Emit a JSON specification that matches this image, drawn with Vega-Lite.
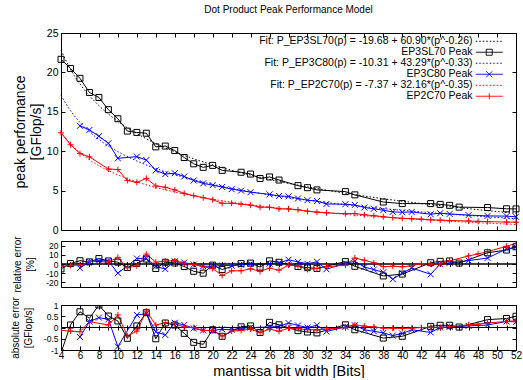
{
  "$schema": "https://vega.github.io/schema/vega-lite/v6.json",
  "padding": {"left": 9, "top": 4, "right": 0, "bottom": 0},
  "background": "white",
  "config": {
    "font": "Liberation Sans",
    "view": {"stroke": "black", "strokeWidth": 1},
    "axis": {"grid": false, "domain": false, "tickColor": "black", "tickWidth": 1, "labelColor": "black", "titleColor": "black", "labelFont": "Liberation Sans", "titleFont": "Liberation Sans", "titleFontWeight": "normal", "labelFontSize": 10, "labelFlush": false, "labelOverlap": false}
  },
  "datasets": {
    "fits": [
      {"x":4,"s":"Fit EP3SL70","f":22.79},{"x":5,"s":"Fit EP3SL70","f":20.40},{"x":6,"s":"Fit EP3SL70","f":18.54},{"x":7,"s":"Fit EP3SL70","f":17.04},{"x":8,"s":"Fit EP3SL70","f":15.79},{"x":9,"s":"Fit EP3SL70","f":14.71},{"x":10,"s":"Fit EP3SL70","f":13.79},{"x":12,"s":"Fit EP3SL70","f":12.24},{"x":14,"s":"Fit EP3SL70","f":10.98},{"x":16,"s":"Fit EP3SL70","f":9.94},{"x":18,"s":"Fit EP3SL70","f":9.04},{"x":20,"s":"Fit EP3SL70","f":8.27},{"x":23,"s":"Fit EP3SL70","f":7.27},{"x":26,"s":"Fit EP3SL70","f":6.42},{"x":30,"s":"Fit EP3SL70","f":5.47},{"x":34,"s":"Fit EP3SL70","f":4.67},{"x":38,"s":"Fit EP3SL70","f":3.97},{"x":42,"s":"Fit EP3SL70","f":3.36},{"x":46,"s":"Fit EP3SL70","f":2.83},{"x":50,"s":"Fit EP3SL70","f":2.34},{"x":52,"s":"Fit EP3SL70","f":2.12},
      {"x":4,"s":"Fit EP3C80","f":17.09},{"x":5,"s":"Fit EP3C80","f":15.14},{"x":6,"s":"Fit EP3C80","f":13.66},{"x":7,"s":"Fit EP3C80","f":12.47},{"x":8,"s":"Fit EP3C80","f":11.49},{"x":9,"s":"Fit EP3C80","f":10.66},{"x":10,"s":"Fit EP3C80","f":9.94},{"x":12,"s":"Fit EP3C80","f":8.76},{"x":14,"s":"Fit EP3C80","f":7.81},{"x":16,"s":"Fit EP3C80","f":7.03},{"x":18,"s":"Fit EP3C80","f":6.37},{"x":20,"s":"Fit EP3C80","f":5.80},{"x":23,"s":"Fit EP3C80","f":5.07},{"x":26,"s":"Fit EP3C80","f":4.46},{"x":30,"s":"Fit EP3C80","f":3.78},{"x":34,"s":"Fit EP3C80","f":3.21},{"x":38,"s":"Fit EP3C80","f":2.72},{"x":42,"s":"Fit EP3C80","f":2.30},{"x":46,"s":"Fit EP3C80","f":1.93},{"x":50,"s":"Fit EP3C80","f":1.59},{"x":52,"s":"Fit EP3C80","f":1.44},
      {"x":4,"s":"Fit EP2C70","f":12.43},{"x":5,"s":"Fit EP2C70","f":10.94},{"x":6,"s":"Fit EP2C70","f":9.81},{"x":7,"s":"Fit EP2C70","f":8.91},{"x":8,"s":"Fit EP2C70","f":8.16},{"x":9,"s":"Fit EP2C70","f":7.54},{"x":10,"s":"Fit EP2C70","f":7.00},{"x":12,"s":"Fit EP2C70","f":6.11},{"x":14,"s":"Fit EP2C70","f":5.40},{"x":16,"s":"Fit EP2C70","f":4.82},{"x":18,"s":"Fit EP2C70","f":4.32},{"x":20,"s":"Fit EP2C70","f":3.90},{"x":23,"s":"Fit EP2C70","f":3.36},{"x":26,"s":"Fit EP2C70","f":2.91},{"x":30,"s":"Fit EP2C70","f":2.41},{"x":34,"s":"Fit EP2C70","f":1.99},{"x":38,"s":"Fit EP2C70","f":1.63},{"x":42,"s":"Fit EP2C70","f":1.32},{"x":46,"s":"Fit EP2C70","f":1.05},{"x":50,"s":"Fit EP2C70","f":0.81},{"x":52,"s":"Fit EP2C70","f":0.70}
    ],
    "peaks": [
      {"x":4,"s":"EP3SL70 Peak","p":21.66,"r":-5.3,"a":-1.13},{"x":5,"s":"EP3SL70 Peak","p":20.5,"r":0.5,"a":0.11},{"x":6,"s":"EP3SL70 Peak","p":19.25,"r":3.6,"a":0.7},{"x":7,"s":"EP3SL70 Peak","p":17.45,"r":2.3,"a":0.41},{"x":8,"s":"EP3SL70 Peak","p":16.82,"r":5.9,"a":1.0},{"x":9,"s":"EP3SL70 Peak","p":15.27,"r":3.3,"a":0.51},{"x":10,"s":"EP3SL70 Peak","p":14.12,"r":2.0,"a":0.29},{"x":11,"s":"EP3SL70 Peak","p":12.55,"r":-3.8,"a":-0.48},{"x":12,"s":"EP3SL70 Peak","p":12.38,"r":0.6,"a":0.07},{"x":13,"s":"EP3SL70 Peak","p":12.28,"r":5.4,"a":0.66},{"x":14,"s":"EP3SL70 Peak","p":10.55,"r":-4.9,"a":-0.5},{"x":15,"s":"EP3SL70 Peak","p":10.65,"r":1.9,"a":0.2},{"x":16,"s":"EP3SL70 Peak","p":10.08,"r":1.1,"a":0.11},{"x":17,"s":"EP3SL70 Peak","p":9.2,"r":-2.8,"a":-0.26},{"x":18,"s":"EP3SL70 Peak","p":8.4,"r":-7.9,"a":-0.66},{"x":19,"s":"EP3SL70 Peak","p":7.95,"r":-10,"a":-0.75},{"x":20,"s":"EP3SL70 Peak","p":8.2,"r":-1.2,"a":-0.1},{"x":21,"s":"EP3SL70 Peak","p":7.57,"r":-6,"a":-0.39},{"x":23,"s":"EP3SL70 Peak","p":7.33,"r":0.4,"a":0.03},{"x":24,"s":"EP3SL70 Peak","p":7.1,"r":1.0,"a":0.07},{"x":25,"s":"EP3SL70 Peak","p":6.54,"r":-3.4,"a":-0.22},{"x":26,"s":"EP3SL70 Peak","p":6.73,"r":3.4,"a":0.23},{"x":27,"s":"EP3SL70 Peak","p":6.34,"r":1.9,"a":0.12},{"x":29,"s":"EP3SL70 Peak","p":5.63,"r":-2.7,"a":-0.14},{"x":30,"s":"EP3SL70 Peak","p":5.37,"r":-4,"a":-0.2},{"x":31,"s":"EP3SL70 Peak","p":5.09,"r":-4.8,"a":-0.24},{"x":34,"s":"EP3SL70 Peak","p":4.87,"r":2.6,"a":0.12},{"x":35,"s":"EP3SL70 Peak","p":4.46,"r":-2.5,"a":-0.1},{"x":38,"s":"EP3SL70 Peak","p":3.55,"r":-13,"a":-0.47},{"x":40,"s":"EP3SL70 Peak","p":3.35,"r":-11,"a":-0.39},{"x":43,"s":"EP3SL70 Peak","p":3.35,"r":1.4,"a":0.05},{"x":44,"s":"EP3SL70 Peak","p":3.25,"r":2.9,"a":0.1},{"x":45,"s":"EP3SL70 Peak","p":3.13,"r":3.3,"a":0.1},{"x":46,"s":"EP3SL70 Peak","p":2.9,"r":1.0,"a":0.02},{"x":49,"s":"EP3SL70 Peak","p":2.85,"r":12.2,"a":0.35},{"x":51,"s":"EP3SL70 Peak","p":2.69,"r":15.2,"a":0.4},{"x":52,"s":"EP3SL70 Peak","p":2.68,"r":18.7,"a":0.5},
      {"x":6,"s":"EP3C80 Peak","p":13.22,"r":-4.5,"a":-0.42},{"x":7,"s":"EP3C80 Peak","p":12.7,"r":2.4,"a":0.26},{"x":8,"s":"EP3C80 Peak","p":11.9,"r":3.7,"a":0.44},{"x":9,"s":"EP3C80 Peak","p":11.01,"r":3.3,"a":0.36},{"x":10,"s":"EP3C80 Peak","p":9.1,"r":-10,"a":-0.85},{"x":12,"s":"EP3C80 Peak","p":9.31,"r":6.0,"a":0.56},{"x":13,"s":"EP3C80 Peak","p":8.87,"r":6.2,"a":0.61},{"x":14,"s":"EP3C80 Peak","p":7.57,"r":-2.7,"a":-0.19},{"x":15,"s":"EP3C80 Peak","p":7.09,"r":-5.5,"a":-0.33},{"x":16,"s":"EP3C80 Peak","p":7.21,"r":2.9,"a":0.21},{"x":17,"s":"EP3C80 Peak","p":6.79,"r":1.6,"a":0.11},{"x":18,"s":"EP3C80 Peak","p":6.28,"r":-0.6,"a":-0.04},{"x":19,"s":"EP3C80 Peak","p":5.91,"r":-2.4,"a":-0.13},{"x":20,"s":"EP3C80 Peak","p":5.69,"r":-2.5,"a":-0.13},{"x":21,"s":"EP3C80 Peak","p":5.46,"r":-1.5,"a":-0.08},{"x":22,"s":"EP3C80 Peak","p":5.18,"r":-1.9,"a":-0.1},{"x":23,"s":"EP3C80 Peak","p":5.0,"r":-0.8,"a":-0.04},{"x":24,"s":"EP3C80 Peak","p":4.8,"r":0,"a":0},{"x":26,"s":"EP3C80 Peak","p":4.52,"r":0.4,"a":0.02},{"x":27,"s":"EP3C80 Peak","p":4.32,"r":1.2,"a":0.05},{"x":28,"s":"EP3C80 Peak","p":4.27,"r":4.6,"a":0.2},{"x":29,"s":"EP3C80 Peak","p":4.0,"r":2.3,"a":0.09},{"x":30,"s":"EP3C80 Peak","p":3.78,"r":0.2,"a":0},{"x":31,"s":"EP3C80 Peak","p":3.68,"r":2.5,"a":0.1},{"x":32,"s":"EP3C80 Peak","p":3.3,"r":-5.7,"a":-0.18},{"x":34,"s":"EP3C80 Peak","p":3.27,"r":0.9,"a":0.03},{"x":35,"s":"EP3C80 Peak","p":3.18,"r":2.9,"a":0.1},{"x":36,"s":"EP3C80 Peak","p":2.86,"r":-3.3,"a":-0.1},{"x":37,"s":"EP3C80 Peak","p":2.69,"r":-6.1,"a":-0.17},{"x":38,"s":"EP3C80 Peak","p":2.51,"r":-9,"a":-0.24},{"x":39,"s":"EP3C80 Peak","p":2.3,"r":-16.5,"a":-0.36},{"x":40,"s":"EP3C80 Peak","p":2.25,"r":-10,"a":-0.27},{"x":41,"s":"EP3C80 Peak","p":2.29,"r":-4.4,"a":-0.1},{"x":43,"s":"EP3C80 Peak","p":2.0,"r":-11.2,"a":-0.22},{"x":44,"s":"EP3C80 Peak","p":2.13,"r":0,"a":0},{"x":45,"s":"EP3C80 Peak","p":2.04,"r":1.2,"a":0.03},{"x":47,"s":"EP3C80 Peak","p":1.89,"r":3.7,"a":0.07},{"x":49,"s":"EP3C80 Peak","p":1.79,"r":6.5,"a":0.11},{"x":51,"s":"EP3C80 Peak","p":1.76,"r":16.3,"a":0.27},{"x":52,"s":"EP3C80 Peak","p":1.68,"r":18.2,"a":0.25},
      {"x":4,"s":"EP2C70 Peak","p":12.33,"r":-2.5,"a":-0.13},{"x":5,"s":"EP2C70 Peak","p":10.82,"r":-1.6,"a":-0.16},{"x":6,"s":"EP2C70 Peak","p":9.7,"r":-1.2,"a":-0.19},{"x":7,"s":"EP2C70 Peak","p":9.28,"r":2.8,"a":0.26},{"x":9,"s":"EP2C70 Peak","p":7.74,"r":2.2,"a":0.11},{"x":10,"s":"EP2C70 Peak","p":7.67,"r":7.2,"a":0.56},{"x":11,"s":"EP2C70 Peak","p":6.28,"r":-4.2,"a":-0.38},{"x":12,"s":"EP2C70 Peak","p":6.04,"r":-2.0,"a":-0.16},{"x":13,"s":"EP2C70 Peak","p":6.55,"r":10.8,"a":0.73},{"x":14,"s":"EP2C70 Peak","p":5.59,"r":2.0,"a":0.11},{"x":15,"s":"EP2C70 Peak","p":5.42,"r":3.2,"a":0.21},{"x":16,"s":"EP2C70 Peak","p":5.09,"r":3.4,"a":0.17},{"x":17,"s":"EP2C70 Peak","p":4.65,"r":0.4,"a":0.02},{"x":18,"s":"EP2C70 Peak","p":4.36,"r":-0.5,"a":0},{"x":19,"s":"EP2C70 Peak","p":4.1,"r":-3,"a":-0.13},{"x":20,"s":"EP2C70 Peak","p":3.85,"r":-5,"a":-0.13},{"x":21,"s":"EP2C70 Peak","p":3.38,"r":-12.5,"a":-0.38},{"x":22,"s":"EP2C70 Peak","p":3.4,"r":-7.4,"a":-0.16},{"x":23,"s":"EP2C70 Peak","p":3.27,"r":-7.4,"a":-0.13},{"x":24,"s":"EP2C70 Peak","p":3.15,"r":-5.2,"a":-0.07},{"x":25,"s":"EP2C70 Peak","p":2.9,"r":-8.1,"a":-0.23},{"x":26,"s":"EP2C70 Peak","p":2.88,"r":-4.5,"a":-0.07},{"x":27,"s":"EP2C70 Peak","p":2.68,"r":-6.7,"a":-0.17},{"x":28,"s":"EP2C70 Peak","p":2.68,"r":-1.3,"a":-0.03},{"x":29,"s":"EP2C70 Peak","p":2.57,"r":-2,"a":-0.05},{"x":30,"s":"EP2C70 Peak","p":2.38,"r":-5.9,"a":-0.1},{"x":31,"s":"EP2C70 Peak","p":2.26,"r":-4.9,"a":-0.1},{"x":32,"s":"EP2C70 Peak","p":2.18,"r":-3,"a":-0.07},{"x":34,"s":"EP2C70 Peak","p":2.07,"r":-1.3,"a":0},{"x":35,"s":"EP2C70 Peak","p":2.09,"r":6.5,"a":0.12},{"x":36,"s":"EP2C70 Peak","p":1.93,"r":4.1,"a":0.06},{"x":37,"s":"EP2C70 Peak","p":1.82,"r":1.3,"a":0.03},{"x":38,"s":"EP2C70 Peak","p":1.68,"r":-3,"a":-0.03},{"x":39,"s":"EP2C70 Peak","p":1.57,"r":-2.4,"a":-0.03},{"x":40,"s":"EP2C70 Peak","p":1.48,"r":-3,"a":-0.04},{"x":41,"s":"EP2C70 Peak","p":1.43,"r":-2,"a":-0.03},{"x":42,"s":"EP2C70 Peak","p":1.38,"r":0.4,"a":0},{"x":43,"s":"EP2C70 Peak","p":1.3,"r":0,"a":0},{"x":44,"s":"EP2C70 Peak","p":1.25,"r":0,"a":0},{"x":45,"s":"EP2C70 Peak","p":1.2,"r":3.4,"a":0.03},{"x":47,"s":"EP2C70 Peak","p":1.14,"r":8.8,"a":0.12},{"x":48,"s":"EP2C70 Peak","p":1.1,"r":11,"a":0.15},{"x":49,"s":"EP2C70 Peak","p":1.06,"r":13.5,"a":0.2},{"x":51,"s":"EP2C70 Peak","p":1.0,"r":19.3,"a":0.27},{"x":52,"s":"EP2C70 Peak","p":0.99,"r":22.5,"a":0.3}
    ]
  },
  "bounds": "flush",
  "spacing": 11,
  "resolve": {"scale": {"color": "independent", "shape": "independent"}},
  "vconcat": [
    {
      "width": 455,
      "height": 197,
      "title": {"text": "Dot Product Peak Performance Model", "frame": "group", "fontSize": 10, "fontWeight": "normal", "font": "Liberation Sans", "color": "black", "offset": 13},
      "resolve": {"axis": {"x": "independent", "y": "independent"}},
      "layer": [
        {
          "data": {"name": "fits"},
          "mark": {"type": "line", "strokeDash": [1.5, 2], "strokeWidth": 1, "interpolate": "monotone"},
          "encoding": {
            "x": {"field": "x", "type": "quantitative", "scale": {"domain": [4, 52], "nice": false, "zero": false},
                  "axis": {"orient": "bottom", "values": [4,6,8,10,12,14,16,18,20,22,24,26,28,30,32,34,36,38,40,42,44,46,48,50,52], "labels": false, "tickSize": -4, "title": null}},
            "y": {"field": "f", "type": "quantitative", "scale": {"domain": [0, 25], "nice": false},
                  "axis": {"orient": "left", "values": [0,5,10,15,20,25], "tickSize": -4, "labelPadding": 7, "labelFontSize": 10.5, "title": ["peak performance", "[GFlop/s]"], "titleFontSize": 14, "titleLineHeight": 16, "titlePadding": 3}},
            "color": {"field": "s", "type": "nominal",
                      "scale": {"domain": ["Fit EP3SL70", "EP3SL70 Peak", "Fit EP3C80", "EP3C80 Peak", "Fit EP2C70", "EP2C70 Peak"], "range": ["#000000", "#000000", "#0000ff", "#0000ff", "#ff0000", "#ff0000"]},
                      "legend": {
                        "title": null, "orient": "none", "legendX": 423, "legendY": 3,
                        "labelFontSize": 10.5, "labelFont": "Liberation Sans", "labelColor": "black",
                        "labelAlign": "right", "labelOffset": -22, "labelLimit": 400,
                        "rowPadding": 0, "symbolSize": 36, "symbolStrokeWidth": 1, "padding": 0,
                        "labelExpr": "datum.value == 'Fit EP3SL70' ? 'Fit: P_EP3SL70(p) = -19.68 + 60.90*(p^-0.26)' : datum.value == 'Fit EP3C80' ? 'Fit: P_EP3C80(p) = -10.31 + 43.29*(p^-0.33)' : datum.value == 'Fit EP2C70' ? 'Fit: P_EP2C70(p) = -7.37 + 32.16*(p^-0.35)' : datum.label",
                        "encode": {"symbols": {"update": {
                          "shape": {"signal": "datum.value == 'EP3SL70 Peak' ? 'M-4.5,0H4.5M-1,-1H1V1H-1Z' : datum.value == 'EP3C80 Peak' ? 'M-4.5,0H4.5M-1,-1L1,1M-1,1L1,-1' : datum.value == 'EP2C70 Peak' ? 'M-4.5,0H4.5M0,-1V1' : 'M-4.5,0H4.5'"},
                          "strokeDash": {"signal": "indexof(datum.value, 'Fit') == 0 ? [1.5, 2] : [1, 0]"},
                          "stroke": {"signal": "indexof(datum.value, '3SL70') >= 0 ? '#000000' : indexof(datum.value, '3C80') >= 0 ? '#0000ff' : '#ff0000'"},
                          "fill": {"value": "transparent"},
                          "opacity": {"value": 1}
                        }}}
                      }}
          }
        },
        {
          "data": {"name": "peaks"},
          "mark": {"type": "line", "strokeWidth": 1},
          "encoding": {
            "x": {"field": "x", "type": "quantitative", "axis": {"orient": "top", "values": [4,6,8,10,12,14,16,18,20,22,24,26,28,30,32,34,36,38,40,42,44,46,48,50,52], "labels": false, "tickSize": -4, "title": null}},
            "y": {"field": "p", "type": "quantitative", "axis": {"orient": "right", "values": [0,5,10,15,20,25], "labels": false, "tickSize": -4, "title": null}},
            "color": {"field": "s", "type": "nominal"}
          }
        },
        {
          "data": {"name": "peaks"},
          "mark": {"type": "point", "filled": false, "strokeWidth": 1, "size": 36, "opacity": 1},
          "encoding": {
            "x": {"field": "x", "type": "quantitative", "axis": null},
            "y": {"field": "p", "type": "quantitative", "axis": null},
            "color": {"field": "s", "type": "nominal"},
            "shape": {"field": "s", "type": "nominal", "scale": {"domain": ["EP3SL70 Peak", "EP3C80 Peak", "EP2C70 Peak"], "range": ["M-1,-1H1V1H-1Z", "M-1,-1L1,1M-1,1L1,-1", "M-1,0H1M0,-1V1"]}, "legend": null}
          }
        }
      ]
    },
    {
      "bounds": "flush",
      "spacing": 18,
      "vconcat": [
        {
          "width": 455,
          "height": 46,
          "resolve": {"axis": {"x": "independent", "y": "independent"}},
          "layer": [
            {
              "data": {"values": [{}]},
              "mark": {"type": "rule", "color": "black", "strokeWidth": 1},
              "encoding": {
                "x": {"datum": 4, "type": "quantitative", "scale": {"domain": [4, 52], "nice": false, "zero": false}, "axis": {"orient": "bottom", "offset": -23, "values": [4,5,6,7,8,9,10,11,12,13,14,15,16,17,18,19,20,21,22,23,24,25,26,27,28,29,30,31,32,33,34,35,36,37,38,39,40,41,42,43,44,45,46,47,48,49,50,51,52], "labels": false, "tickSize": 2.5, "title": null}},
                "x2": {"datum": 52},
                "y": {"datum": 0, "type": "quantitative", "scale": {"domain": [-25, 25], "nice": false}, "axis": null}
              }
            },
            {
              "data": {"values": [{}]},
              "mark": {"type": "rule", "color": "black", "strokeWidth": 1},
              "encoding": {
                "x": {"datum": 4, "type": "quantitative", "axis": {"orient": "top", "offset": -23, "values": [4,5,6,7,8,9,10,11,12,13,14,15,16,17,18,19,20,21,22,23,24,25,26,27,28,29,30,31,32,33,34,35,36,37,38,39,40,41,42,43,44,45,46,47,48,49,50,51,52], "labels": false, "tickSize": 2.5, "title": null}},
                "x2": {"datum": 52},
                "y": {"datum": 0, "type": "quantitative", "axis": null}
              }
            },
            {
              "data": {"name": "peaks"},
              "mark": {"type": "line", "strokeWidth": 1, "clip": true},
              "encoding": {
                "x": {"field": "x", "type": "quantitative", "axis": {"orient": "bottom", "values": [4,6,8,10,12,14,16,18,20,22,24,26,28,30,32,34,36,38,40,42,44,46,48,50,52], "labels": false, "tickSize": -4, "title": null}},
                "y": {"field": "r", "type": "quantitative", "axis": {"orient": "left", "values": [-20,-10,0,10,20], "tickSize": -4, "labelPadding": 7, "labelFontSize": 8.5, "labelExpr": "'' + datum.value", "title": ["relative error", "[%]"], "titleFontSize": 10, "titleLineHeight": 13, "titlePadding": 10}},
                "color": {"field": "s", "type": "nominal", "scale": {"domain": ["EP3SL70 Peak", "EP3C80 Peak", "EP2C70 Peak"], "range": ["#000000", "#0000ff", "#ff0000"]}, "legend": null}
              }
            },
            {
              "data": {"name": "peaks"},
              "mark": {"type": "point", "filled": false, "strokeWidth": 1, "size": 36, "opacity": 1, "clip": true},
              "encoding": {
                "x": {"field": "x", "type": "quantitative", "axis": {"orient": "top", "values": [4,6,8,10,12,14,16,18,20,22,24,26,28,30,32,34,36,38,40,42,44,46,48,50,52], "labels": false, "tickSize": -4, "title": null}},
                "y": {"field": "r", "type": "quantitative", "axis": {"orient": "right", "values": [-20,-10,0,10,20], "labels": false, "tickSize": -4, "title": null}},
                "color": {"field": "s", "type": "nominal", "legend": null},
                "shape": {"field": "s", "type": "nominal", "scale": {"domain": ["EP3SL70 Peak", "EP3C80 Peak", "EP2C70 Peak"], "range": ["M-1,-1H1V1H-1Z", "M-1,-1L1,1M-1,1L1,-1", "M-1,0H1M0,-1V1"]}, "legend": null}
              }
            }
          ]
        },
        {
          "width": 455,
          "height": 45,
          "resolve": {"axis": {"x": "independent", "y": "independent"}},
          "layer": [
            {
              "data": {"values": [{}]},
              "mark": {"type": "rule", "color": "black", "strokeWidth": 1},
              "encoding": {
                "x": {"datum": 4, "type": "quantitative", "scale": {"domain": [4, 52], "nice": false, "zero": false}, "axis": {"orient": "bottom", "offset": -22.5, "values": [4,5,6,7,8,9,10,11,12,13,14,15,16,17,18,19,20,21,22,23,24,25,26,27,28,29,30,31,32,33,34,35,36,37,38,39,40,41,42,43,44,45,46,47,48,49,50,51,52], "labels": false, "tickSize": 2.5, "title": null}},
                "x2": {"datum": 52},
                "y": {"datum": 0, "type": "quantitative", "scale": {"domain": [-1, 1], "nice": false}, "axis": null}
              }
            },
            {
              "data": {"values": [{}]},
              "mark": {"type": "rule", "color": "black", "strokeWidth": 1},
              "encoding": {
                "x": {"datum": 4, "type": "quantitative", "axis": {"orient": "top", "offset": -22.5, "values": [4,5,6,7,8,9,10,11,12,13,14,15,16,17,18,19,20,21,22,23,24,25,26,27,28,29,30,31,32,33,34,35,36,37,38,39,40,41,42,43,44,45,46,47,48,49,50,51,52], "labels": false, "tickSize": 2.5, "title": null}},
                "x2": {"datum": 52},
                "y": {"datum": 0, "type": "quantitative", "axis": null}
              }
            },
            {
              "data": {"name": "peaks"},
              "mark": {"type": "line", "strokeWidth": 1, "clip": true},
              "encoding": {
                "x": {"field": "x", "type": "quantitative", "axis": {"orient": "bottom", "values": [4,6,8,10,12,14,16,18,20,22,24,26,28,30,32,34,36,38,40,42,44,46,48,50,52], "labels": true, "labelFontSize": 10, "tickSize": -4, "labelPadding": 4, "title": "mantissa bit width [Bits]", "titleFontSize": 14.5, "titlePadding": 4}},
                "y": {"field": "a", "type": "quantitative", "axis": {"orient": "left", "values": [-1,-0.5,0,0.5,1], "tickSize": -4, "labelPadding": 7, "labelFontSize": 8.5, "labelExpr": "'' + datum.value", "title": ["absolute error", "[GFlop/s]"], "titleFontSize": 10, "titleLineHeight": 13, "titlePadding": 10}},
                "color": {"field": "s", "type": "nominal", "scale": {"domain": ["EP3SL70 Peak", "EP3C80 Peak", "EP2C70 Peak"], "range": ["#000000", "#0000ff", "#ff0000"]}, "legend": null}
              }
            },
            {
              "data": {"name": "peaks"},
              "mark": {"type": "point", "filled": false, "strokeWidth": 1, "size": 36, "opacity": 1, "clip": true},
              "encoding": {
                "x": {"field": "x", "type": "quantitative", "axis": {"orient": "top", "values": [4,6,8,10,12,14,16,18,20,22,24,26,28,30,32,34,36,38,40,42,44,46,48,50,52], "labels": false, "tickSize": -4, "title": null}},
                "y": {"field": "a", "type": "quantitative", "axis": {"orient": "right", "values": [-1,-0.5,0,0.5,1], "labels": false, "tickSize": -4, "title": null}},
                "color": {"field": "s", "type": "nominal", "legend": null},
                "shape": {"field": "s", "type": "nominal", "scale": {"domain": ["EP3SL70 Peak", "EP3C80 Peak", "EP2C70 Peak"], "range": ["M-1,-1H1V1H-1Z", "M-1,-1L1,1M-1,1L1,-1", "M-1,0H1M0,-1V1"]}, "legend": null}
              }
            }
          ]
        }
      ]
    }
  ]
}
